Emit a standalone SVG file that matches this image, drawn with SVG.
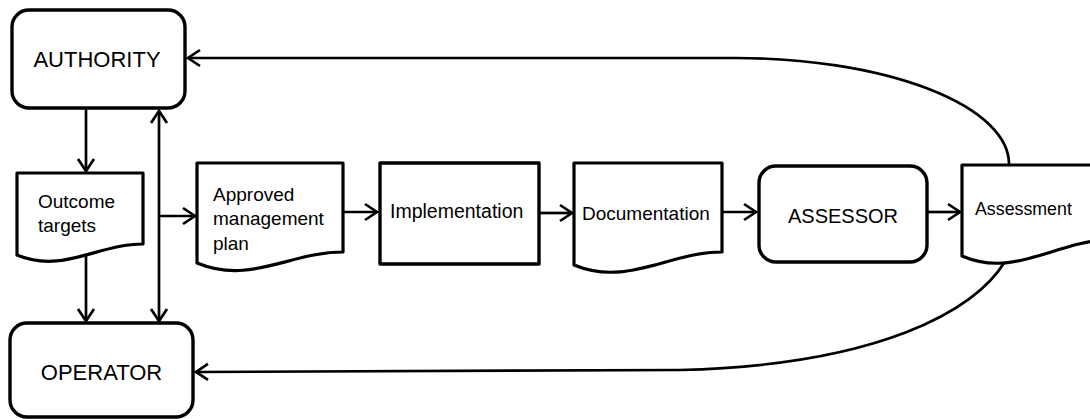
<svg xmlns="http://www.w3.org/2000/svg" width="1090" height="419" viewBox="0 0 1090 419">
<style>
.box{fill:#fff;stroke:#000;stroke-width:3.4;stroke-linejoin:round}
.doc{fill:#fff;stroke:#000;stroke-width:3.2;stroke-linejoin:round}
.con{fill:none;stroke:#000;stroke-width:2.7}
.big{font-family:"Liberation Sans",Arial,sans-serif;font-size:22px;fill:#000}
.sm{font-family:"Liberation Sans",Arial,sans-serif;font-size:19px;fill:#000}
</style>
<defs>
<marker id="ah" viewBox="-16 -11 19 22" refX="0" refY="0" markerWidth="19" markerHeight="22" markerUnits="userSpaceOnUse" orient="auto-start-reverse" overflow="visible">
<path d="M -12 -8 L 0 0 L -12 8" fill="none" stroke="#000" stroke-width="2.7" stroke-linejoin="miter"/>
</marker>
</defs>
<rect width="1090" height="419" fill="#fff"/>
<g id="connectors">
<path class="con" d="M 86 109 L 86 171" marker-end="url(#ah)"/>
<path class="con" d="M 86 256 L 86 321" marker-end="url(#ah)"/>
<path class="con" d="M 159 111 L 159 321" marker-start="url(#ah)" marker-end="url(#ah)"/>
<path class="con" d="M 159 216 L 195 216" marker-end="url(#ah)"/>
<path class="con" d="M 344 212 L 377 212" marker-end="url(#ah)"/>
<path class="con" d="M 540 213 L 572 213" marker-end="url(#ah)"/>
<path class="con" d="M 723 212 L 756 212" marker-end="url(#ah)"/>
<path class="con" d="M 928 212 L 960 212" marker-end="url(#ah)"/>
<path class="con" d="M 1009 164 A 274 106 0 0 0 735 58 L 188 58" marker-end="url(#ah)"/>
<path class="con" d="M 1004 263 C 975 310, 880 365, 680 370 L 196 372" marker-end="url(#ah)"/>
</g>
<g id="authority">
<rect class="box" x="12" y="10" width="173" height="98" rx="17"/>
<text class="big" x="97" y="67" text-anchor="middle">AUTHORITY</text>
</g>
<g id="outcome-targets">
<path class="doc" d="M 17 173 H 143 V 244 C 98 244, 62 274, 17 255 Z"/>
<text class="sm" x="38" y="208">Outcome</text>
<text class="sm" x="38" y="232">targets</text>
</g>
<g id="operator">
<rect class="box" x="10" y="323" width="183" height="94" rx="17"/>
<text class="big" x="101.5" y="380" text-anchor="middle">OPERATOR</text>
</g>
<g id="approved-plan">
<path class="doc" d="M 197 163 H 343 V 252 C 290 252, 250 285, 197 263 Z"/>
<text class="sm" x="213" y="201">Approved</text>
<text class="sm" x="213" y="225">management</text>
<text class="sm" x="213" y="250">plan</text>
</g>
<g id="implementation">
<rect class="box" x="380" y="163" width="159" height="101"/>
<text class="sm" x="390" y="218" style="font-size:19.5px">Implementation</text>
</g>
<g id="documentation">
<path class="doc" d="M 574 163 H 722 V 252 C 669 252, 627 287, 574 265 Z"/>
<text class="sm" x="582" y="220">Documentation</text>
</g>
<g id="assessor">
<rect class="box" x="759" y="166" width="168" height="96" rx="17"/>
<text class="big" x="843" y="223" text-anchor="middle" style="font-size:20px">ASSESSOR</text>
</g>
<g id="assessment">
<path class="doc" d="M 962 165 H 1110 V 240 C 1057 240, 1015 279, 962 256 Z"/>
<text class="sm" x="975" y="215" style="font-size:17.8px">Assessment</text>
</g>
</svg>
